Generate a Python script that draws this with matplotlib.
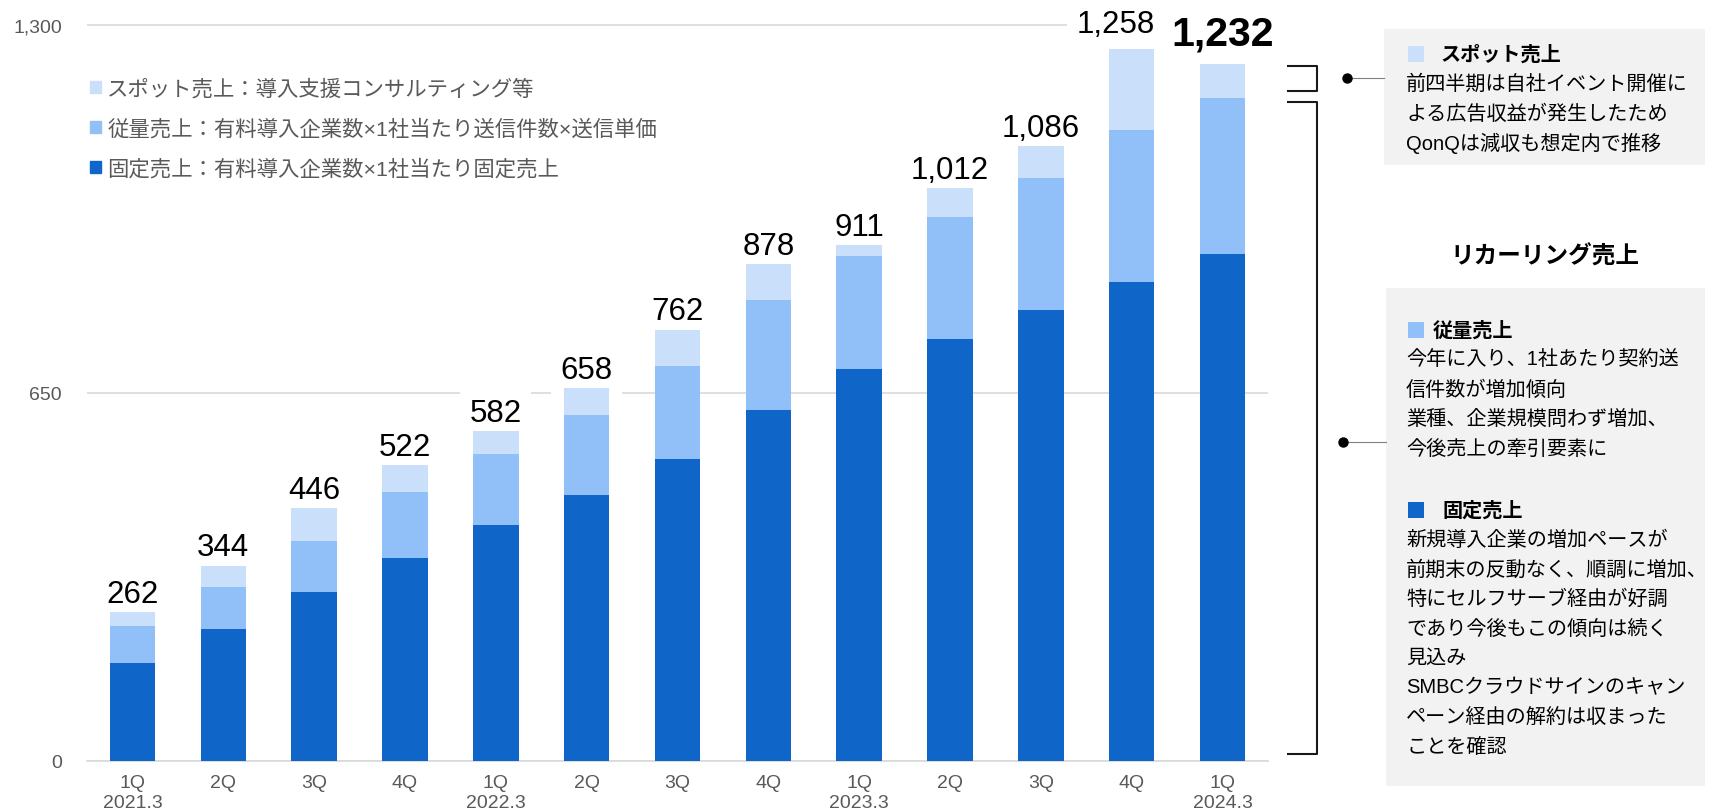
import matplotlib.pyplot as plt
import matplotlib.transforms as mtransforms
from matplotlib.patches import Patch, Rectangle
from matplotlib.lines import Line2D

plt.rcParams['font.family'] = ['Liberation Sans', 'Noto Sans CJK JP']

# data
quarters = ['1Q\n2021.3', '2Q', '3Q', '4Q', '1Q\n2022.3', '2Q', '3Q', '4Q',
            '1Q\n2023.3', '2Q', '3Q', '4Q', '1Q\n2024.3']
fixed = [173, 232, 298, 358, 417, 470, 534, 619, 693, 745, 797, 847, 895]
volume = [64, 74, 91, 116, 125, 141, 164, 196, 200, 216, 233, 268, 277]
spot = [25, 38, 57, 48, 40, 47, 64, 63, 18, 51, 56, 143, 60]
totals = [262, 344, 446, 522, 582, 658, 762, 878, 911, 1012, 1086, 1258, 1232]
yticks = [0, 650, 1300]

legend_labels = ['スポット売上：導入支援コンサルティング等',
                 '従量売上：有料導入企業数×1社当たり送信件数×送信単価',
                 '固定売上：有料導入企業数×1社当たり固定売上']

spot_title = 'スポット売上'
spot_note = ['前四半期は自社イベント開催に',
             'よる広告収益が発生したため',
             'QonQは減収も想定内で推移']
recurring_title = 'リカーリング売上'
volume_title = '従量売上'
volume_note = ['今年に入り、1社あたり契約送',
               '信件数が増加傾向',
               '業種、企業規模問わず増加、',
               '今後売上の牽引要素に']
fixed_title = '固定売上'
fixed_note = ['新規導入企業の増加ペースが',
              '前期末の反動なく、順調に増加、',
              '特にセルフサーブ経由が好調',
              'であり今後もこの傾向は続く',
              '見込み',
              'SMBCクラウドサインのキャン',
              'ペーン経由の解約は収まった',
              'ことを確認']

DARK = '#0F66C8'
MID = '#90C0F7'
LIGHT = '#C9DFFA'
GRAY_TXT = '#595959'

W, H = 1709, 812


def fxy(x, y):
    # pixel position (from top-left) -> figure fraction
    return x / W, 1 - y / H


fig = plt.figure(figsize=(W / 100, H / 100), dpi=100)
ax = fig.add_axes([87 / W, (H - 761.5) / H, (1268 - 87) / W, 1310 * 0.5655 / H])

x = list(range(len(quarters)))
mid_bottom = [f + v for f, v in zip(fixed, volume)]
ax.bar(x, fixed, width=0.5, color=DARK, zorder=3)
ax.bar(x, volume, width=0.5, bottom=fixed, color=MID, zorder=3)
ax.bar(x, spot, width=0.5, bottom=mid_bottom, color=LIGHT, zorder=3)

ax.set_xlim(-0.5, 12.5)
ax.set_ylim(0, 1310)
ax.set_yticks(yticks)
ax.set_yticklabels([f'{v:,}' for v in yticks])
ax.set_xticks(x)
ax.set_xticklabels(quarters)
for t in ax.get_xticklabels():
    t.set_linespacing(1.2)
ax.tick_params(axis='y', length=0, pad=18, labelsize=14, labelcolor=GRAY_TXT)
ax.tick_params(axis='x', length=0, pad=10, labelsize=14, labelcolor=GRAY_TXT)
ax.set_axisbelow(True)
ax.grid(axis='y', color='#D9D9D9', linewidth=1.2)
ax.grid(axis='x', visible=False)
for s in ['top', 'right', 'left']:
    ax.spines[s].set_visible(False)
ax.spines['bottom'].set_color('#D9D9D9')
ax.spines['bottom'].set_linewidth(1.2)

# totals above bars; 1,258 is nudged left so it clears the bold 1,232
offsets = [(0, 2.5)] * len(totals)
offsets[11] = (-11.5, 7.5)
offsets[12] = (0, 8)
for i, t in enumerate(totals):
    last = i == len(totals) - 1
    ax.annotate(f'{t:,}', (i, t), xytext=offsets[i], textcoords='offset points',
                ha='center', va='bottom', fontsize=29.5 if last else 22.5,
                fontweight='bold' if last else 'normal', color='black',
                bbox=dict(boxstyle='square,pad=0.3', fc='white', ec='none'), zorder=2)

handles = [Patch(color=c, label=l) for c, l in zip([LIGHT, MID, DARK], legend_labels)]
ax.legend(handles=handles, loc='upper left', bbox_to_anchor=fxy(90, 79),
          bbox_transform=fig.transFigure, frameon=False, handlelength=0.5,
          handleheight=0.5, handletextpad=0.3, labelspacing=0.9, borderpad=0,
          borderaxespad=0, fontsize=15.4, labelcolor=GRAY_TXT)

# right-hand notes
fig.add_artist(Rectangle(fxy(1384, 166), (1705 - 1384) / W, (166 - 30) / H,
                         transform=fig.transFigure, fc='#F2F2F2', ec='none'))
fig.add_artist(Rectangle(fxy(1386, 787), (1705 - 1386) / W, (787 - 289) / H,
                         transform=fig.transFigure, fc='#F2F2F2', ec='none'))


def note(title, color, lines, y0, title_x):
    fig.add_artist(Rectangle(fxy(1408, y0 + 8), 16 / W, 16 / H,
                             transform=fig.transFigure, fc=color, ec='none'))
    fig.text(*fxy(title_x, y0), title, ha='left', va='center', fontsize=14.5,
             fontweight='bold', color='black')
    for k, line in enumerate(lines):
        fig.text(*fxy(1406, y0 + 29.5 * (k + 1)), line, ha='left', va='center',
                 fontsize=14.5, color='black')


note(spot_title, LIGHT, spot_note, 55, 1440)
note(volume_title, MID, volume_note, 331, 1433)
note(fixed_title, DARK, fixed_note, 511, 1442)
fig.text(*fxy(1545, 257), recurring_title, ha='center', va='center',
         fontsize=17, fontweight='bold', color='black')

# connectors
for (dx, dy, ex) in [(1347, 79, 1384), (1343, 443, 1386)]:
    (x1, y1), (x2, _) = fxy(dx, dy), fxy(ex, dy)
    fig.add_artist(Line2D([x1, x2], [y1, y1], color='#808080', lw=0.8))
    fig.add_artist(Line2D([x1], [y1], marker='o', ms=6.5, color='black'))

# brackets next to the latest bar
trans = mtransforms.blended_transform_factory(fig.transFigure, ax.transData)
xl, xr = 1288 / W, 1317 / W
for top, bot in [(totals[-1] - 4, mid_bottom[-1] + 12), (mid_bottom[-1] - 8, 12)]:
    fig.add_artist(Line2D([xl, xr, xr, xl], [top, top, bot, bot], transform=trans,
                          color='#1A1A1A', lw=1.5, solid_joinstyle='round'))

fig.savefig('out.png', dpi=100)
